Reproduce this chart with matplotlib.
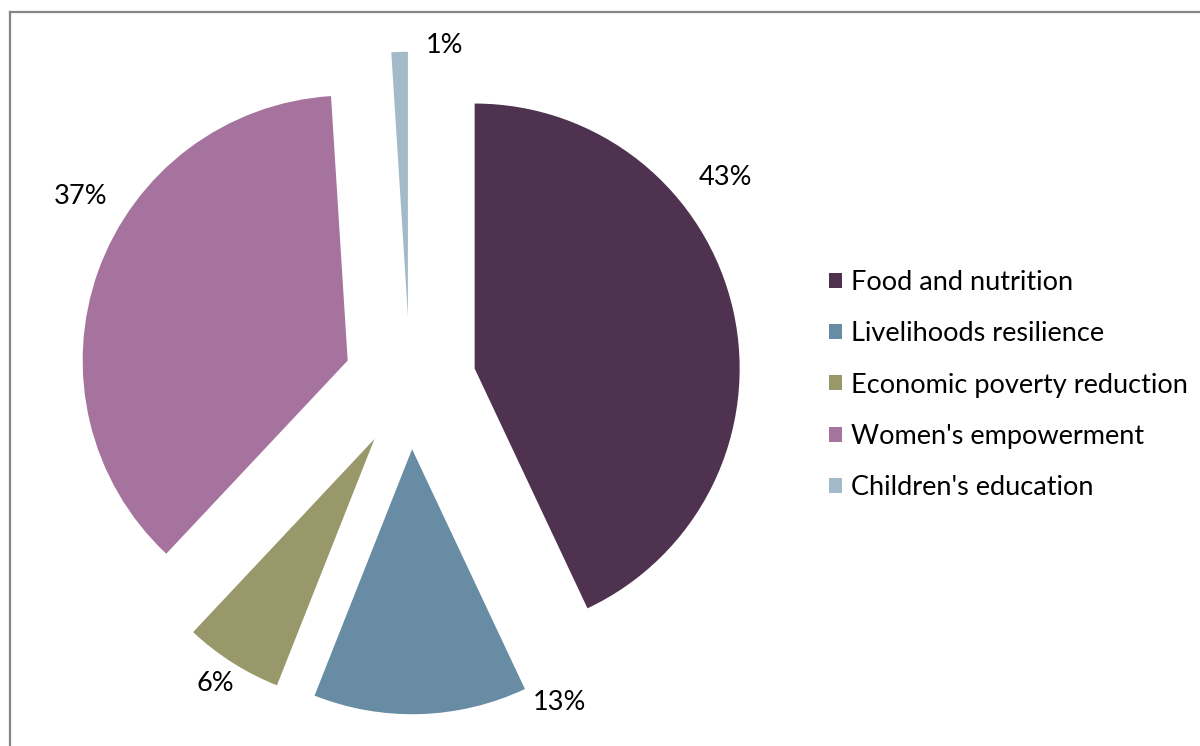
import numpy as np
import matplotlib.pyplot as plt
from matplotlib.lines import Line2D

plt.rcParams['font.family'] = ['Lato', 'DejaVu Sans']
plt.rcParams['font.size'] = 19.5

categories = ['Food and nutrition', 'Livelihoods resilience', 'Economic poverty reduction',
              "Women's empowerment", "Children's education"]
shares = [43, 13, 6, 37, 1]
colors = ['#4f3250', '#688ca4', '#99986a', '#a6739f', '#a3bbc8']

# label placement: (angle in degrees, distance in pie radii) from the pie centre
label_pos = [(33.1, 1.42), (-64.9, 1.33), (-123.0, 1.35), (150.5, 1.43), (84.2, 1.28)]

W, H = 1200, 746
R = 265.0          # pie radius in pixels
cx, cy = 410, 383  # pie centre in pixels (from top-left)

fig = plt.figure(figsize=(W / 100, H / 100), dpi=100)
ax = fig.add_axes([0, 0, 1, 1])

wedges, _ = ax.pie(shares, colors=colors, startangle=90, counterclock=False,
                   explode=[0.25] * len(shares), radius=1, center=(0, 0),
                   wedgeprops={'linewidth': 0})

ax.set_xlim(-cx / R, (W - cx) / R)
ax.set_ylim(-(H - cy) / R, cy / R)
ax.set_aspect('equal')
ax.axis('off')

for (ang, dist), s in zip(label_pos, shares):
    a = np.deg2rad(ang)
    ax.text(dist * np.cos(a), dist * np.sin(a), f'{s}%', ha='center', va='center')

ax.legend(wedges, categories, loc='center left', bbox_to_anchor=(818 / W, 1 - 385 / H),
          frameon=False, handlelength=0.48, handleheight=0.48, handletextpad=0.35,
          labelspacing=0.97, borderaxespad=0, fontsize=19.5)

# chart area border (left and top edges visible)
fig.add_artist(Line2D([10 / W, 10 / W], [0, 1 - 12 / H], color='#868686', linewidth=1.6,
                      transform=fig.transFigure))
fig.add_artist(Line2D([10 / W, 1], [1 - 12 / H, 1 - 12 / H], color='#868686', linewidth=1.6,
                      transform=fig.transFigure))

fig.savefig('out.png', dpi=100)
